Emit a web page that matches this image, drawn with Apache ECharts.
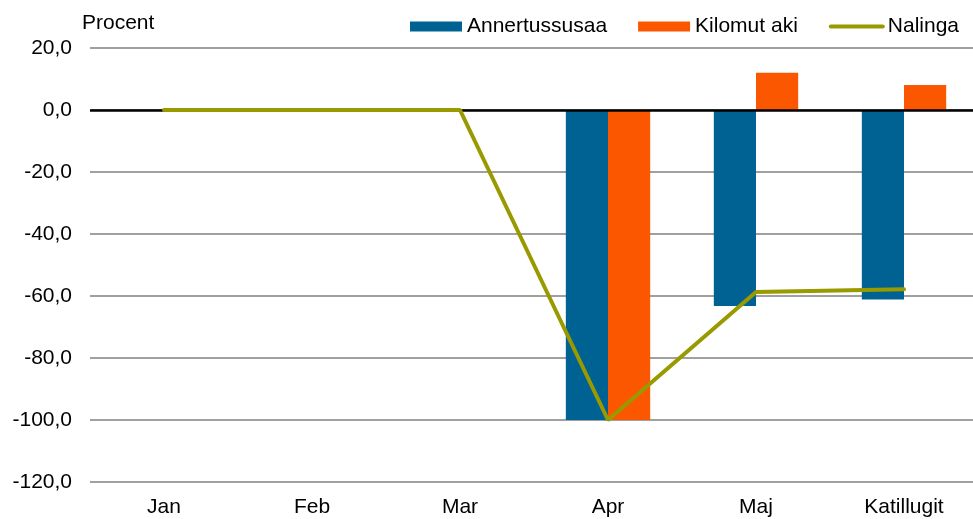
<!DOCTYPE html>
<html>
<head>
<meta charset="utf-8">
<script src="https://cdn.jsdelivr.net/npm/echarts@6/dist/echarts.min.js"></script>
<style>
  html, body { margin: 0; padding: 0; background: #fff; }
  #chart { width: 973px; height: 519px; }
</style>
</head>
<body>
<div id="chart"></div>
<script>
// data
var months = ["Jan", "Feb", "Mar", "Apr", "Maj", "Katillugit"];
var annertussusaa = [0, 0, 0, -100, -63.2, -61.1];
var kilomutAki = [0, 0, 0, -100, 12.0, 8.1];
var nalinga = [0, 0, 0, -100, -58.7, -57.8];

var font = "Liberation Sans, Arial, sans-serif";

var chartDom = document.getElementById("chart");
var myChart = echarts.init(chartDom);

var option = {
  backgroundColor: "white",
  animation: false,
  textStyle: { fontFamily: font },
  grid: {
    left: 90,
    width: 888,
    top: 48,
    bottom: 37,
    outerBoundsMode: "none",
    containLabel: false,
  },
  legend: {
    top: 11,
    left: 405,
    itemWidth: 52,
    itemHeight: 10,
    itemGap: 31,
    textStyle: { fontSize: 21, color: "#000", fontFamily: font, padding: [0, 0, 0, 0] },
    data: [
      { name: "Annertussusaa", icon: "rect" },
      { name: "Kilomut aki", icon: "rect" },
      { name: "Nalinga", itemStyle: { opacity: 0 }, lineStyle: { color: "#999900", width: 4 } },
    ],
  },
  xAxis: {
    type: "category",
    data: months,
    axisLine: { show: false },
    axisTick: { show: false },
    axisLabel: { fontSize: 21, color: "#000", margin: 15, fontFamily: font },
  },
  yAxis: {
    type: "value",
    name: "Procent",
    nameLocation: "end",
    nameGap: 14,
    nameTextStyle: { fontSize: 21, color: "#000", align: "left", padding: [0, 0, 0, -8], fontFamily: font },
    min: -120,
    max: 20,
    interval: 20,
    axisLine: { show: false },
    axisTick: { show: false },
    axisLabel: {
      fontSize: 21,
      color: "#000",
      margin: 18,
      fontFamily: font,
      formatter: function (v) {
        return v.toFixed(1).replace(".", ",");
      },
    },
    splitLine: { lineStyle: { color: "#a0a0a0", width: 2 } },
  },
  series: [
    {
      name: "Annertussusaa",
      type: "bar",
      data: annertussusaa,
      barGap: "0%",
      barCategoryGap: "43%",
      itemStyle: { color: "#006193" },
      z: 2,
    },
    {
      name: "Kilomut aki",
      type: "bar",
      data: kilomutAki,
      itemStyle: { color: "#fa5700" },
      z: 2,
      markLine: {
        silent: true,
        symbol: "none",
        label: { show: false },
        lineStyle: { color: "#000", width: 2.5, type: "solid" },
        data: [{ yAxis: 0 }],
      },
    },
    {
      name: "Nalinga",
      type: "line",
      data: nalinga,
      showSymbol: false,
      symbol: "none",
      lineStyle: { color: "#999900", width: 4, cap: "round" },
      itemStyle: { color: "#999900" },
      z: 5,
    },
  ],
};

option && myChart.setOption(option);
</script>
</body>
</html>
